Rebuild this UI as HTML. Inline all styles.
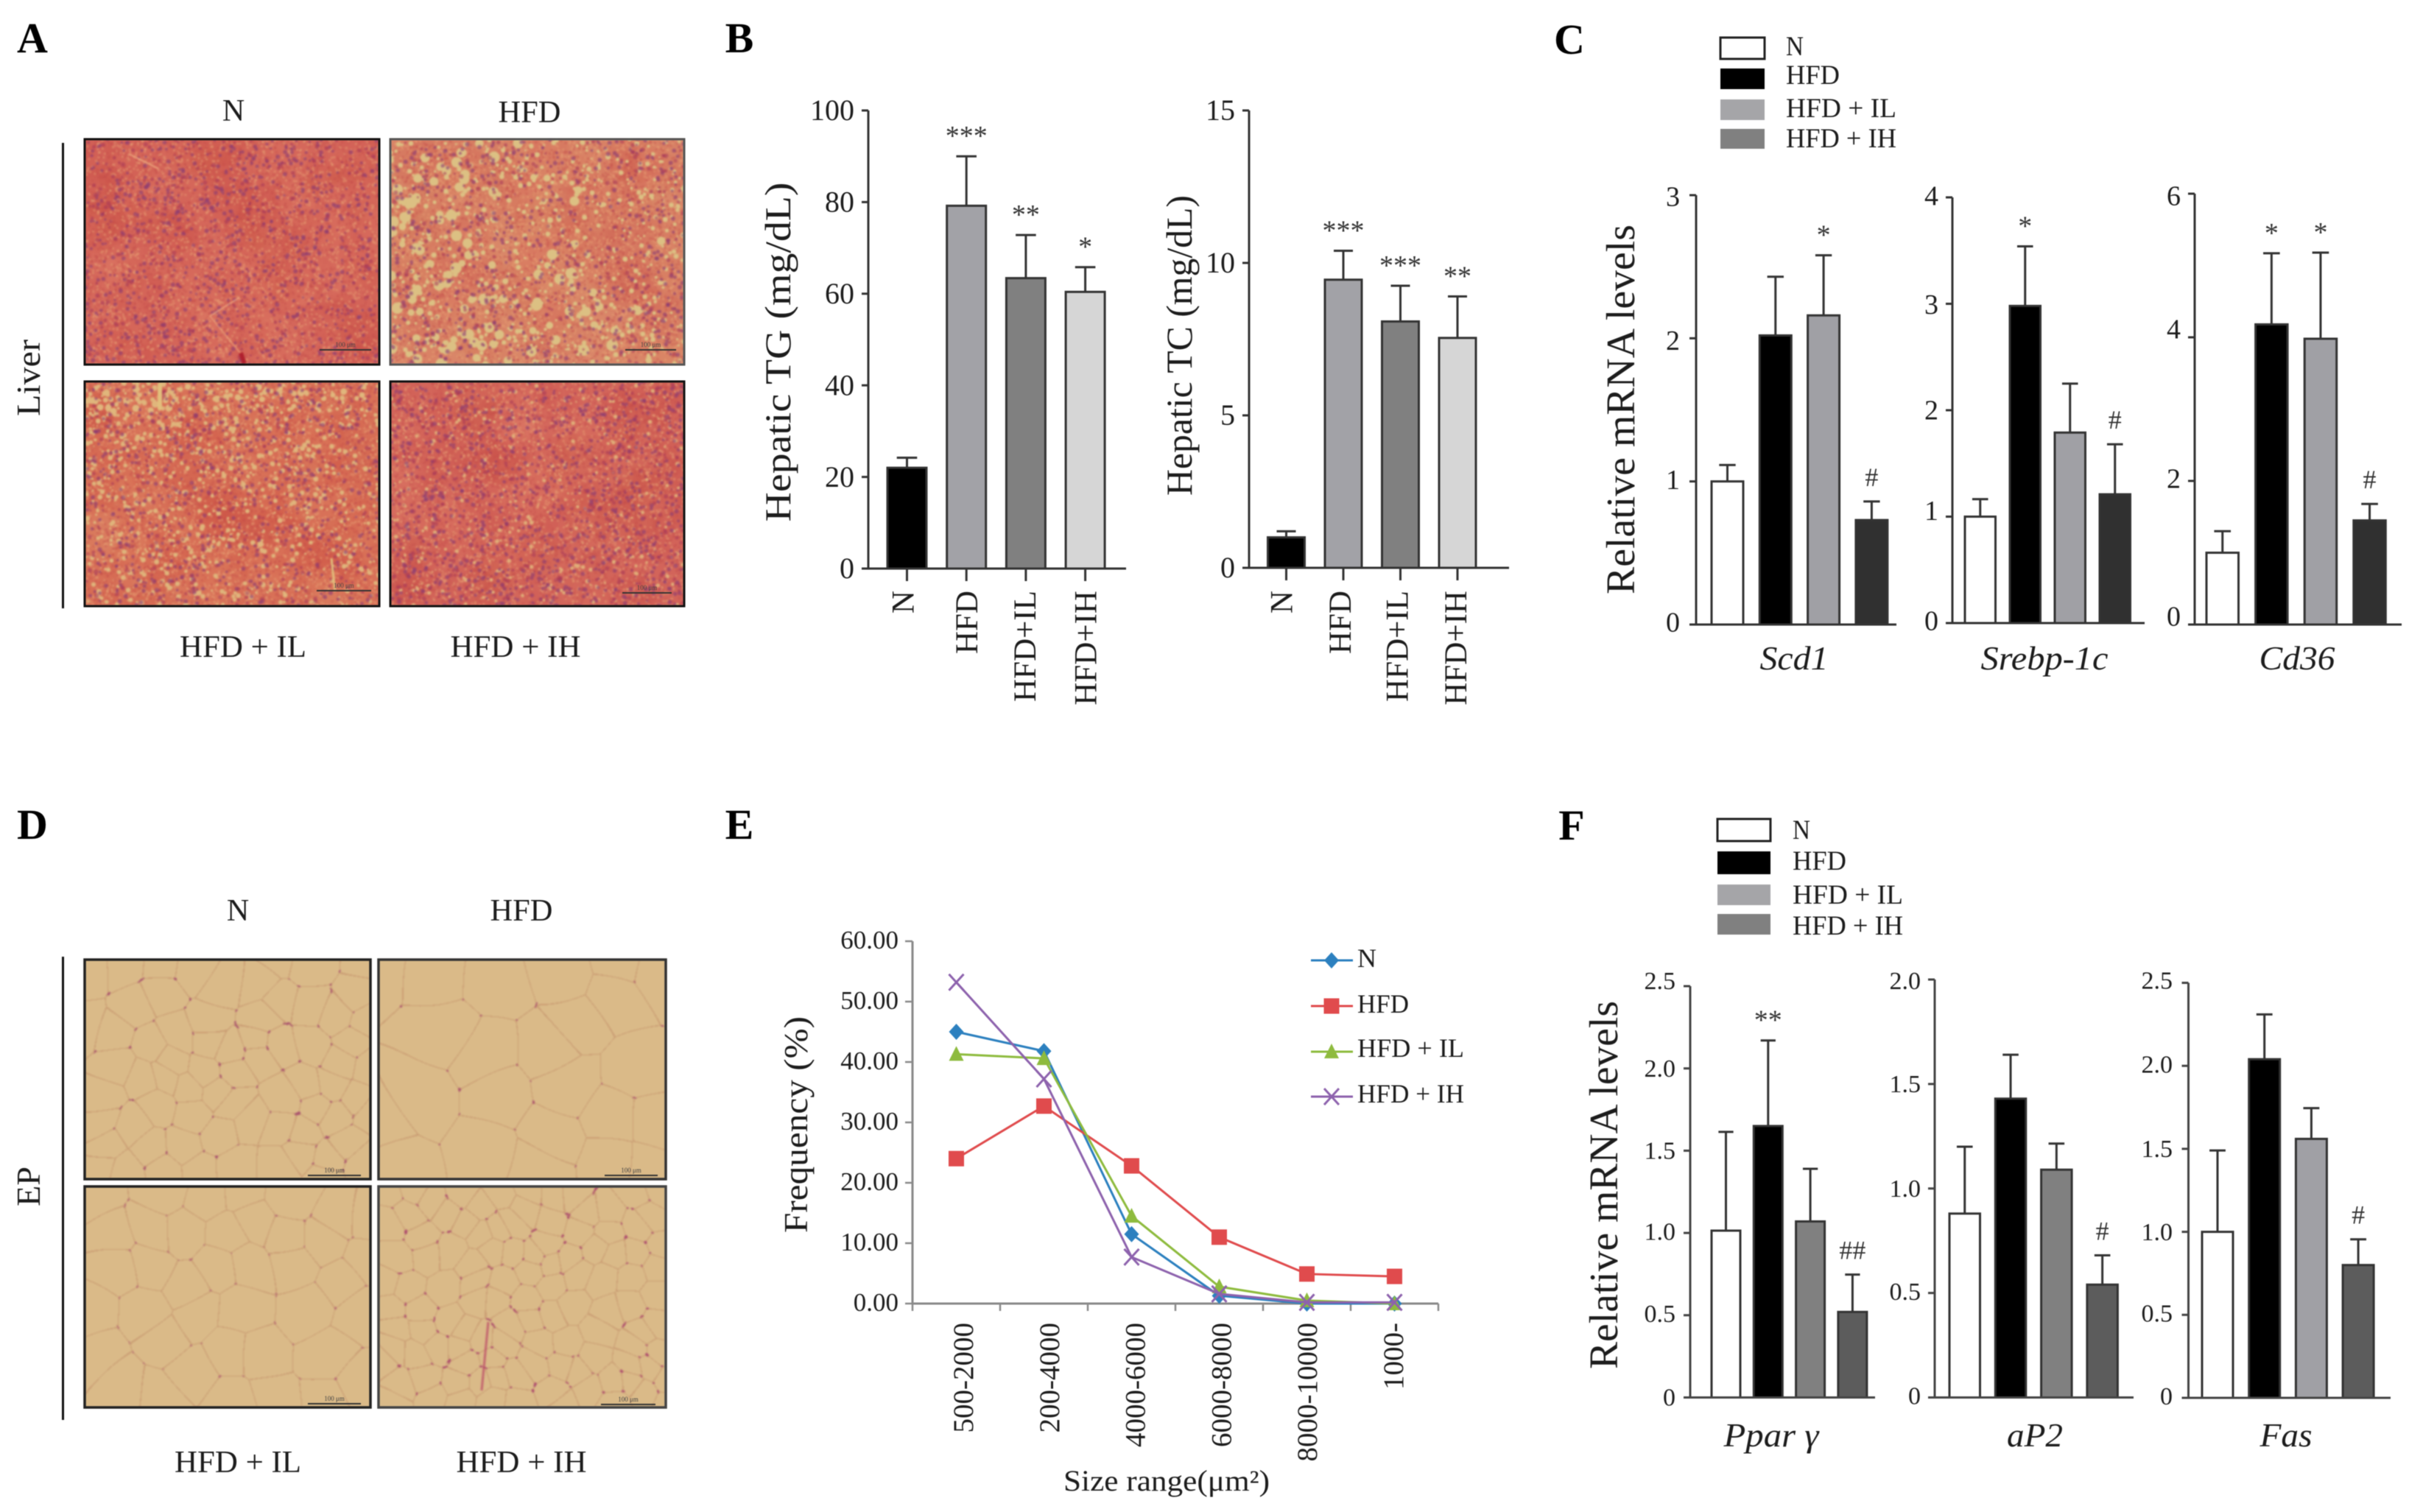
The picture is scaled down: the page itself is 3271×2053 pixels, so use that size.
<!DOCTYPE html>
<html lang="en">
<head>
<meta charset="utf-8">
<title>Liver and adipose histology with lipid and mRNA charts</title>
<style>
html,body{margin:0;padding:0;background:#fff;width:3271px;height:2053px;overflow:hidden}
#stage{position:relative;width:3271px;height:2053px}
canvas{position:absolute;filter:blur(1px)}
svg{position:absolute;left:0;top:0;filter:blur(.6px)}
text{font-family:"Liberation Serif","Times New Roman",serif;fill:#1c1c1c}
</style>
</head>
<body>
<div id="stage">
<canvas id="liver-n" width="400" height="306" style="left:115px;top:189px"></canvas>
<canvas id="liver-hfd" width="399" height="306" style="left:530px;top:189px"></canvas>
<canvas id="liver-il" width="400" height="305" style="left:115px;top:518px"></canvas>
<canvas id="liver-ih" width="399" height="305" style="left:530px;top:518px"></canvas>
<canvas id="ep-n" width="388" height="298" style="left:115px;top:1303px"></canvas>
<canvas id="ep-hfd" width="390" height="298" style="left:514px;top:1303px"></canvas>
<canvas id="ep-il" width="388" height="300" style="left:115px;top:1611px"></canvas>
<canvas id="ep-ih" width="390" height="300" style="left:514px;top:1611px"></canvas>
<svg id="fig" xmlns="http://www.w3.org/2000/svg" width="3271" height="2053" viewBox="0 0 3271 2053">
<g id="panel-a"></g>
<g id="panel-b"></g>
<g id="panel-c"></g>
<g id="panel-d"></g>
<g id="panel-e"></g>
<g id="panel-f"></g>
</svg>
</div>
<script>
/* ---------- chart data ---------- */
const hepaticGroups = ['N', 'HFD', 'HFD+IL', 'HFD+IH'];
const tgValues = [22, 79.2, 63.4, 60.4];
const tgErrorTops = [24.2, 90, 72.8, 65.8];
const tgMarks = ['', '***', '**', '*'];
const tgTicks = [0, 20, 40, 60, 80, 100];
const tgTickLabels = ['0', '20', '40', '60', '80', '100'];
const tcValues = [1.0, 9.45, 8.08, 7.54];
const tcErrorTops = [1.2, 10.4, 9.25, 8.9];
const tcMarks = ['', '***', '***', '**'];
const tcTicks = [0, 5, 10, 15];
const tcTickLabels = ['0', '5', '10', '15'];

const scd1Values = [1.0, 2.02, 2.16, 0.73];
const scd1ErrorTops = [1.115, 2.43, 2.58, 0.86];
const scd1Marks = ['', '', '*', '#'];
const scd1Ticks = [0, 1, 2, 3];
const scd1TickLabels = ['0', '1', '2', '3'];
const srebpValues = [1.0, 2.98, 1.79, 1.21];
const srebpErrorTops = [1.164, 3.54, 2.25, 1.68];
const srebpMarks = ['', '*', '', '#'];
const srebpTicks = [0, 1, 2, 3, 4];
const srebpTickLabels = ['0', '1', '2', '3', '4'];
const cd36Values = [1.0, 4.18, 3.98, 1.45];
const cd36ErrorTops = [1.3, 5.17, 5.18, 1.68];
const cd36Marks = ['', '*', '*', '#'];
const cd36Ticks = [0, 2, 4, 6];
const cd36TickLabels = ['0', '2', '4', '6'];

const pparValues = [1.014, 1.65, 1.07, 0.52];
const pparErrorTops = [1.614, 2.17, 1.39, 0.747];
const pparMarks = ['', '**', '', '##'];
const pparTicks = [0, 0.5, 1, 1.5, 2, 2.5];
const pparTickLabels = ['0', '0.5', '1.0', '1.5', '2.0', '2.5'];
const ap2Values = [0.88, 1.43, 1.09, 0.54];
const ap2ErrorTops = [1.2, 1.64, 1.215, 0.68];
const ap2Marks = ['', '', '', '#'];
const ap2Ticks = [0, 0.5, 1, 1.5, 2];
const ap2TickLabels = ['0', '0.5', '1.0', '1.5', '2.0'];
const fasValues = [1.0, 2.04, 1.56, 0.8];
const fasErrorTops = [1.49, 2.31, 1.745, 0.955];
const fasMarks = ['', '', '', '#'];
const fasTicks = [0, 0.5, 1, 1.5, 2, 2.5];
const fasTickLabels = ['0', '0.5', '1.0', '1.5', '2.0', '2.5'];

const sizeCategories = ['500-2000', '200-4000', '4000-6000', '6000-8000', '8000-10000', '1000-'];
const sizeSeriesNames = ['N', 'HFD', 'HFD + IL', 'HFD + IH'];
const sizeN = [45, 41.8, 11.5, 1.3, 0, 0];
const sizeHFD = [24, 32.7, 22.8, 11, 4.9, 4.5];
const sizeIL = [41.3, 40.6, 14.5, 2.8, 0.5, 0];
const sizeIH = [53.2, 37.2, 7.7, 1.6, 0.2, 0.2];
const sizeTicks = [0, 10, 20, 30, 40, 50, 60];
const sizeTickLabels = ['0.00', '10.00', '20.00', '30.00', '40.00', '50.00', '60.00'];
const legendLabels = ['N', 'HFD', 'HFD + IL', 'HFD + IH'];

/* ---------- svg helpers ---------- */
const NS = 'http://www.w3.org/2000/svg';
function add(parent, tag, attrs, name) {
  const el = document.createElementNS(NS, tag);
  for (const k in attrs) el.setAttribute(k, attrs[k]);
  
  
  parent.appendChild(el);
  return el;
}
function label(parent, str, x, y, size, name, opt) {
  opt = opt || {};
  const attrs = {x: x, y: y, 'font-size': size, 'text-anchor': opt.anchor || 'middle'};
  if (opt.rotate) attrs.transform = 'rotate(-90 ' + x + ' ' + y + ')';
  if (opt.len) { attrs.textLength = opt.len; attrs.lengthAdjust = 'spacingAndGlyphs'; }
  if (opt.italic) attrs['font-style'] = 'italic';
  if (opt.bold) attrs['font-weight'] = 'bold';
  if (opt.fill) attrs.style = 'fill:' + opt.fill;
  const t = add(parent, 'text', attrs, name);
  t.textContent = str;
  return t;
}
function line(parent, x1, y1, x2, y2, color, w, name) {
  return add(parent, 'line', {x1: x1, y1: y1, x2: x2, y2: y2, stroke: color, 'stroke-width': w}, name);
}
const $ = id => document.getElementById(id);

/* ---------- bar chart ---------- */
function drawBars(parent, c) {
  const g = add(parent, 'g', {}, c.name);
  const yMax = c.ticks[c.ticks.length - 1];
  const yScale = v => c.bottom - (v / yMax) * (c.bottom - c.top);
  const xBand = i => c.barLeft + i * c.barStep;
  const axis = c.axisColor || '#333';
  c.values.forEach((v, i) => {
    const cx = xBand(i) + c.barWidth / 2;
    const top = yScale(c.errors[i]);
    line(g, cx, yScale(v), cx, top, '#333', 3, 'error-bar-' + c.groups[i]);
    line(g, cx - c.barWidth * 0.26, top, cx + c.barWidth * 0.26, top, '#333', 3, 'error-cap-' + c.groups[i]);
    add(g, 'rect', {x: xBand(i), y: yScale(v), width: c.barWidth, height: c.bottom - yScale(v),
      fill: c.colors[i], stroke: '#333', 'stroke-width': 3}, 'bar-' + c.groups[i]);
    if (c.marks[i]) {
      const fs = c.marks[i].indexOf('#') >= 0 ? 36 : 38;
      const base = top - 32 + (c.marks[i].indexOf('#') >= 0 ? 11 : 17);
      label(g, c.marks[i], cx, base, fs, 'significance-mark', {fill: '#333'});
    }
    if (c.groupLabels) {
      const lx = xBand(i) + c.barWidth / 2 + c.labelShift[i];
      label(g, c.groups[i], lx + 14, 802, 43, 'x-tick-label-' + c.groups[i], {rotate: true, anchor: 'end'});
      line(g, cx, c.bottom, cx, c.bottom + 17, axis, 3, 'x-tick');
    }
  });
  line(g, c.axisX, c.top, c.axisX, c.bottom + 1.5, axis, 3, 'y-axis');
  line(g, c.axisX - 9, c.bottom, c.axisEnd, c.bottom, axis, 3, 'x-axis');
  c.ticks.forEach((t, i) => {
    line(g, c.axisX - 9, yScale(t), c.axisX, yScale(t), axis, 3, 'y-tick');
    const nudge = c.labelNudge ? c.labelNudge[i] : 0;
    label(g, c.tickLabels[i], c.labelRight, yScale(t) + c.tickSize * 0.33 + nudge, c.tickSize, 'y-tick-label', {anchor: 'end'});
  });
  if (c.xTitle) label(g, c.xTitle, c.xTitleX, c.xTitleY, 46, 'x-axis-title', {italic: true, len: c.xTitleLen});
  return g;
}
const hepaticColors = ['#000', '#a2a2a7', '#808080', '#d6d6d6'];
const mrnaCColors = ['#fff', '#000', '#a0a0a5', '#303030'];
const mrnaF1Colors = ['#fff', '#000', '#808080', '#5c5c5c'];
const mrnaF2Colors = ['#fff', '#000', '#a0a0a5', '#5c5c5c'];

/* ---------- panel letters ---------- */
[['panel-a', 'A', 44, 71], ['panel-b', 'B', 1004, 71], ['panel-c', 'C', 2131, 73],
 ['panel-d', 'D', 44, 1139], ['panel-e', 'E', 1004, 1139], ['panel-f', 'F', 2134, 1140]].forEach(p => {
  label($(p[0]), p[1], p[2], p[3], 58, 'panel-letter-' + p[1], {bold: true, fill: '#000'});
});

/* ---------- panel B ---------- */
drawBars($('panel-b'), {name: 'hepatic-tg-chart', groups: hepaticGroups, groupLabels: true,
  labelShift: [-5, 1, -1, 1], values: tgValues, errors: tgErrorTops, marks: tgMarks,
  ticks: tgTicks, tickLabels: tgTickLabels, colors: hepaticColors,
  top: 150, bottom: 772, axisX: 1179, axisEnd: 1529, barLeft: 1205, barStep: 80.7, barWidth: 53,
  labelRight: 1160, tickSize: 40});
label($('panel-b'), 'Hepatic TG (mg/dL)', 1073, 478, 50, 'y-axis-title-tg', {rotate: true, len: 461});
drawBars($('panel-b'), {name: 'hepatic-tc-chart', groups: hepaticGroups, groupLabels: true,
  labelShift: [-6, -4, -4, -2], values: tcValues, errors: tcErrorTops, marks: tcMarks,
  ticks: tcTicks, tickLabels: tcTickLabels, colors: hepaticColors,
  top: 150, bottom: 771, axisX: 1696, axisEnd: 2049, barLeft: 1721.5, barStep: 77.5, barWidth: 50,
  labelRight: 1677, tickSize: 40});
label($('panel-b'), 'Hepatic TC (mg/dL)', 1618, 469, 50, 'y-axis-title-tc', {rotate: true, len: 408});

/* ---------- legends C / F ---------- */
function swatchLegend(parent, name, x, w, ys, hs, textX, textYs, colors) {
  const g = add(parent, 'g', {}, name);
  legendLabels.forEach((s, i) => {
    add(g, 'rect', {x: x, y: ys[i], width: w, height: hs[i], fill: colors[i],
      stroke: i === 0 ? '#222' : 'none', 'stroke-width': 3}, 'legend-swatch-' + s);
    label(g, s, textX, textYs[i] + 12, 37, 'legend-label-' + s, {anchor: 'start', len: s === 'N' ? 24 : (s === 'HFD' ? 73 : 150)});
  });
}
swatchLegend($('panel-c'), 'legend-c', 2336, 60, [51, 93, 135, 175], [29, 28, 28, 27], 2425, [63, 102, 147, 188],
  ['#fff', '#000', '#a5a5a8', '#808080']);
swatchLegend($('panel-f'), 'legend-f', 2332, 72, [1112, 1156, 1201, 1241], [30, 31, 28, 28], 2434, [1127, 1169, 1215, 1257],
  ['#fff', '#000', '#a5a5a8', '#808080']);

/* ---------- panel C ---------- */
label($('panel-c'), 'Relative mRNA levels', 2219, 556, 55, 'y-axis-title-c', {rotate: true, len: 502});
drawBars($('panel-c'), {name: 'scd1-chart', groups: hepaticGroups, values: scd1Values, errors: scd1ErrorTops, marks: scd1Marks,
  ticks: scd1Ticks, tickLabels: scd1TickLabels, colors: mrnaCColors,
  top: 265, bottom: 848, axisX: 2303, axisEnd: 2575, barLeft: 2324, barStep: 65.3, barWidth: 43,
  labelRight: 2281, tickSize: 38, labelNudge: [-3, -2, 3, 2], xTitle: 'Scd1', xTitleX: 2436, xTitleY: 909, xTitleLen: 93});
drawBars($('panel-c'), {name: 'srebp-1c-chart', groups: hepaticGroups, values: srebpValues, errors: srebpErrorTops, marks: srebpMarks,
  ticks: srebpTicks, tickLabels: srebpTickLabels, colors: mrnaCColors,
  top: 268, bottom: 846, axisX: 2651, axisEnd: 2912, barLeft: 2668, barStep: 61, barWidth: 41.5,
  labelRight: 2632, tickSize: 38, labelNudge: [-3, -8, 0, 1, -2], xTitle: 'Srebp-1c', xTitleX: 2776, xTitleY: 909, xTitleLen: 173});
drawBars($('panel-c'), {name: 'cd36-chart', groups: hepaticGroups, values: cd36Values, errors: cd36ErrorTops, marks: cd36Marks,
  ticks: cd36Ticks, tickLabels: cd36TickLabels, colors: mrnaCColors,
  top: 263, bottom: 848, axisX: 2980, axisEnd: 3261, barLeft: 2996, barStep: 66.6, barWidth: 43.5,
  labelRight: 2961, tickSize: 38, labelNudge: [-11, -3, -11, 3], xTitle: 'Cd36', xTitleX: 3119, xTitleY: 909, xTitleLen: 103});

/* ---------- panel F ---------- */
label($('panel-f'), 'Relative mRNA levels', 2196, 1609, 55, 'y-axis-title-f', {rotate: true, len: 500});
drawBars($('panel-f'), {name: 'ppar-gamma-chart', groups: hepaticGroups, values: pparValues, errors: pparErrorTops, marks: pparMarks,
  ticks: pparTicks, tickLabels: pparTickLabels, colors: mrnaF1Colors, axisColor: '#444',
  top: 1339, bottom: 1897.5, axisX: 2295, axisEnd: 2546, barLeft: 2324, barStep: 57.3, barWidth: 39, labelNudge: [0, -2, -2, 0, 0, -7],
  labelRight: 2275, tickSize: 34, xTitle: 'Ppar γ', xTitleX: 2405, xTitleY: 1964, xTitleLen: 129});
drawBars($('panel-f'), {name: 'ap2-chart', groups: hepaticGroups, values: ap2Values, errors: ap2ErrorTops, marks: ap2Marks,
  ticks: ap2Ticks, tickLabels: ap2TickLabels, colors: mrnaF1Colors, axisColor: '#444',
  top: 1330, bottom: 1897.5, axisX: 2627, axisEnd: 2897, barLeft: 2647, barStep: 62.3, barWidth: 41.5, labelNudge: [-2, -2, 0, 0, 2],
  labelRight: 2608, tickSize: 34, xTitle: 'aP2', xTitleX: 2763, xTitleY: 1964, xTitleLen: 76});
drawBars($('panel-f'), {name: 'fas-chart', groups: hepaticGroups, values: fasValues, errors: fasErrorTops, marks: fasMarks,
  ticks: fasTicks, tickLabels: fasTickLabels, colors: mrnaF2Colors, axisColor: '#444',
  top: 1334.5, bottom: 1898, axisX: 2971.5, axisEnd: 3246, barLeft: 2990, barStep: 63.7, barWidth: 42, labelNudge: [-2, -2, 0, 0, -2, -3],
  labelRight: 2950, tickSize: 34, xTitle: 'Fas', xTitleX: 3104, xTitleY: 1964, xTitleLen: 71});

/* ---------- panel E : line chart ---------- */
(function () {
  const root = $('panel-e');
  const g = add(root, 'g', {}, 'size-frequency-chart');
  const left = 1239, right = 1953, top = 1278, bottom = 1770, yMax = 60;
  const yScale = v => bottom - (v / yMax) * (bottom - top);
  const step = (right - left) / sizeCategories.length;
  const xScale = i => left + step * (i + 0.5);
  const labelX = i => 1321 + i * 116.8;
  const colors = ['#2c80bf', '#e04b4d', '#8ebb3e', '#8d62ad'];
  const series = [sizeN, sizeHFD, sizeIL, sizeIH];
  const axisColor = '#8a8a8a';
  line(g, left, top, left, bottom, axisColor, 3, 'y-axis');
  line(g, left, bottom, right, bottom, axisColor, 3, 'x-axis');
  sizeTicks.forEach((t, i) => {
    line(g, left - 10, yScale(t), left, yScale(t), axisColor, 2.5, 'y-tick');
    label(g, sizeTickLabels[i], 1220, yScale(t) + 10, 35, 'y-tick-label', {anchor: 'end'});
  });
  for (let i = 0; i <= sizeCategories.length; i++) {
    line(g, left + step * i, bottom, left + step * i, bottom + 10, axisColor, 2.5, 'x-tick');
  }
  sizeCategories.forEach((s, i) => {
    label(g, s, labelX(i), 1796, 39, 'x-tick-label', {rotate: true, anchor: 'end'});
  });
  function marker(parent, idx, x, y, color) {
    if (idx === 0) add(parent, 'polygon', {points: [x, y - 11, x + 10, y, x, y + 11, x - 10, y].join(' '), fill: color}, 'marker-diamond');
    if (idx === 1) add(parent, 'rect', {x: x - 10.5, y: y - 10.5, width: 21, height: 21, fill: color}, 'marker-square');
    if (idx === 2) add(parent, 'polygon', {points: [x, y - 11, x + 10, y + 9, x - 10, y + 9].join(' '), fill: color}, 'marker-triangle');
    if (idx === 3) add(parent, 'path', {d: 'M' + (x - 10) + ' ' + (y - 11) + 'L' + (x + 10) + ' ' + (y + 11) + 'M' + (x + 10) + ' ' + (y - 11) + 'L' + (x - 10) + ' ' + (y + 11), stroke: color, 'stroke-width': 3, fill: 'none'}, 'marker-cross');
  }
  series.forEach((vals, s) => {
    const sg = add(g, 'g', {}, 'series-' + sizeSeriesNames[s]);
    add(sg, 'polyline', {points: vals.map((v, i) => xScale(i) + ',' + yScale(v)).join(' '), fill: 'none', stroke: colors[s], 'stroke-width': 3}, 'series-line');
    vals.forEach((v, i) => marker(sg, s, xScale(i), yScale(v), colors[s]));
  });
  const lg = add(root, 'g', {}, 'legend-e');
  const ly = [1304, 1366, 1428, 1489], ty = [1313, 1375, 1435, 1497];
  sizeSeriesNames.forEach((s, i) => {
    line(lg, 1780, ly[i], 1837, ly[i], colors[i], 3, 'legend-line-' + s);
    marker(lg, i, 1808, ly[i], colors[i]);
    label(lg, s, 1843, ty[i], 36, 'legend-label-' + s, {anchor: 'start', len: s === 'N' ? 26 : (s === 'HFD' ? 70 : 145)});
  });
  label(root, 'Frequency (%)', 1096, 1527, 46, 'y-axis-title-e', {rotate: true, len: 294});
  label(root, 'Size range(μm²)', 1584, 2024, 40, 'x-axis-title-e', {len: 280});
})();

/* ---------- panels A / D : labels, frames ---------- */
(function () {
  const a = $('panel-a'), d = $('panel-d');
  line(a, 85.5, 194, 85.5, 826, '#111', 3, 'liver-bracket');
  line(d, 85.5, 1299, 85.5, 1928, '#111', 3, 'ep-bracket');
  label(a, 'Liver', 54, 513, 46, 'liver-row-label', {rotate: true, len: 104});
  label(d, 'EP', 54, 1611, 46, 'ep-row-label', {rotate: true, len: 54});
  label(a, 'N', 317, 164, 42, 'column-label-n');
  label(a, 'HFD', 719, 166, 42, 'column-label-hfd', {len: 85});
  label(a, 'HFD + IL', 330, 892, 42, 'column-label-hfd-il', {len: 172});
  label(a, 'HFD + IH', 700, 892, 42, 'column-label-hfd-ih', {len: 177});
  label(d, 'N', 323, 1250, 42, 'column-label-n');
  label(d, 'HFD', 708, 1250, 42, 'column-label-hfd', {len: 85});
  label(d, 'HFD + IL', 323, 1999, 42, 'column-label-hfd-il', {len: 172});
  label(d, 'HFD + IH', 708, 1999, 42, 'column-label-hfd-ih', {len: 177});
  [[115, 189, 400, 306, '#111'], [530, 189, 399, 306, '#555'], [115, 518, 400, 305, '#111'], [530, 518, 399, 305, '#111']].forEach(f => {
    add(a, 'rect', {x: f[0], y: f[1], width: f[2], height: f[3], fill: 'none', stroke: f[4], 'stroke-width': 3}, 'photo-frame');
  });
  [[115, 1303, 388, 298, '#222'], [514, 1303, 390, 298, '#333'], [115, 1611, 388, 300, '#222'], [514, 1611, 390, 300, '#444']].forEach(f => {
    add(d, 'rect', {x: f[0], y: f[1], width: f[2], height: f[3], fill: 'none', stroke: f[4], 'stroke-width': 3.5}, 'photo-frame');
  });
  [[a, 434, 504, 475], [a, 849, 918, 475], [a, 430, 504, 802], [a, 845, 912, 805], [d, 418, 490, 1596], [d, 821, 893, 1596], [d, 418, 490, 1906], [d, 816, 890, 1907]].forEach(b => {
    line(b[0], b[1], b[3], b[2], b[3], '#333', 2, 'scale-bar');
    label(b[0], '100 μm', (b[1] + b[2]) / 2, b[3] - 4, 9, 'scale-bar-label', {fill: '#444'});
  });
})();

/* ---------- photo textures ---------- */
function prng(a) {
  return function () {
    a |= 0; a = a + 0x6D2B79F5 | 0;
    let t = Math.imul(a ^ a >>> 15, 1 | a);
    t = t + Math.imul(t ^ t >>> 7, 61 | t) ^ t;
    return ((t ^ t >>> 14) >>> 0) / 4294967296;
  };
}
function drawLiver(id, seed, o) {
  const cv = $(id), ctx = cv.getContext('2d'), w = cv.width, h = cv.height, r = prng(seed);
  ctx.fillStyle = o.base; ctx.fillRect(0, 0, w, h);
  for (let i = 0; i < 350; i++) {
    ctx.fillStyle = r() < 0.5 ? 'rgba(190,60,60,.05)' : 'rgba(235,150,110,.05)';
    ctx.beginPath(); ctx.arc(r() * w, r() * h, 8 + r() * 30, 0, 7); ctx.fill();
  }
  for (let i = 0; i < 5000; i++) {
    ctx.fillStyle = r() < 0.5 ? 'rgba(232,160,115,.5)' : 'rgba(195,75,75,.35)';
    ctx.fillRect(r() * w, r() * h, 3, 3);
  }
  o.globules.forEach(gl => {
    let placed = 0, guard = 0;
    while (placed < gl.count && guard++ < gl.count * 30) {
      const x = r() * w, y = r() * h;
      if (r() > gl.weight(x / w, y / h)) continue;
      const rad = gl.min + r() * (gl.max - gl.min);
      ctx.fillStyle = gl.color;
      ctx.beginPath(); ctx.arc(x, y, rad, 0, 7); ctx.fill();
      placed++;
    }
  });
  for (let i = 0; i < o.nuclei; i++) {
    ctx.fillStyle = r() < 0.6 ? 'rgba(140,60,115,.62)' : 'rgba(165,55,90,.55)';
    ctx.beginPath(); ctx.arc(r() * w, r() * h, 1.6 + r() * 1.4, 0, 7); ctx.fill();
  }
  (o.veins || []).forEach(v => {
    ctx.strokeStyle = v[5]; ctx.lineWidth = v[4];
    ctx.beginPath(); ctx.moveTo(v[0], v[1]); ctx.lineTo(v[2], v[3]); ctx.stroke();
  });
}
function drawAdipose(id, seed, count, o) {
  const cv = $(id), ctx = cv.getContext('2d'), w = cv.width, h = cv.height, r = prng(seed);
  const pts = [];
  for (let i = 0; i < count; i++) {
    let best = null, bestD = -1;
    for (let c = 0; c < 10; c++) {
      const p = [r() * w, r() * h];
      let m = 1e9;
      pts.forEach(q => { m = Math.min(m, (p[0] - q[0]) ** 2 + (p[1] - q[1]) ** 2); });
      if (m > bestD) { bestD = m; best = p; }
    }
    pts.push(best);
  }
  const img = ctx.createImageData(w, h), data = img.data;
  for (let y = 0; y < h; y++) for (let x = 0; x < w; x++) {
    const wx = x + 5 * Math.sin(y / 31 + seed), wy = y + 5 * Math.sin(x / 27 + seed);
    let d1 = 1e9, d2 = 1e9, d3 = 1e9, a = 0, b = 0;
    for (let i = 0; i < pts.length; i++) {
      const dx = pts[i][0] - wx, dy = pts[i][1] - wy, d = Math.sqrt(dx * dx + dy * dy);
      if (d < d1) { d3 = d2; d2 = d1; b = a; d1 = d; a = i; }
      else if (d < d2) { d3 = d2; d2 = d; b = i; }
      else if (d < d3) d3 = d;
    }
    let c = [218, 186, 136];
    if (d2 - d1 < 1.1) c = [203, 158, 116];
    if (d3 - d1 < o.junction && ((a * 7 + b * 13) % 3 === 0)) c = o.nucleus;
    const p = (y * w + x) * 4;
    data[p] = c[0]; data[p + 1] = c[1]; data[p + 2] = c[2]; data[p + 3] = 255;
  }
  ctx.putImageData(img, 0, 0);
  (o.vessels || []).forEach(v => {
    ctx.strokeStyle = 'rgba(190,80,105,.8)'; ctx.lineWidth = v[4];
    ctx.beginPath(); ctx.moveTo(v[0], v[1]); ctx.lineTo(v[2], v[3]); ctx.stroke();
  });
}
drawLiver('liver-n', 11, {base: '#d4665a', nuclei: 1250, globules: [],
  veins: [[60, 20, 100, 40, 2, 'rgba(240,175,130,.8)'], [170, 240, 210, 215, 2, 'rgba(240,175,130,.8)'], [170, 240, 215, 295, 1.5, 'rgba(240,175,130,.7)'], [212, 290, 217, 305, 6, '#b0202e']]});
drawLiver('liver-hfd', 22, {base: '#d98468', nuclei: 900, globules: [
  {count: 750, min: 1, max: 3.5, color: '#dcc083', weight: (x, y) => 0.6},
  {count: 130, min: 3, max: 8, color: '#dcc083', weight: (x, y) => Math.max(0.05, 0.95 - 1.1 * x)}]});
drawLiver('liver-il', 33, {base: '#d76f57', nuclei: 1000, globules: [
  {count: 1000, min: 1, max: 3.5, color: '#dfb47b', weight: (x, y) => 0.5 + 0.5 * (1 - y) * (1 - x)},
  {count: 90, min: 1.5, max: 5, color: '#e0b67c', weight: (x, y) => y < 0.14 ? 1 : 0.02}],
  veins: [[102, 2, 102, 38, 6, '#e1bf7c'], [335, 240, 340, 285, 3, '#e1bf7c']]});
drawLiver('liver-ih', 44, {base: '#d2645a', nuclei: 1450, globules: [
  {count: 450, min: 0.8, max: 2.8, color: '#e0ad78', weight: () => 0.7}]});
drawAdipose('ep-n', 5, 70, {junction: 3.5, nucleus: [170, 85, 110]});
drawAdipose('ep-hfd', 8, 24, {junction: 3.5, nucleus: [175, 90, 110]});
drawAdipose('ep-il', 13, 40, {junction: 3, nucleus: [185, 110, 115]});
drawAdipose('ep-ih', 21, 110, {junction: 3.5, nucleus: [175, 80, 110], vessels: [[149, 184, 140, 277, 3]]});
</script>
</body>
</html>
